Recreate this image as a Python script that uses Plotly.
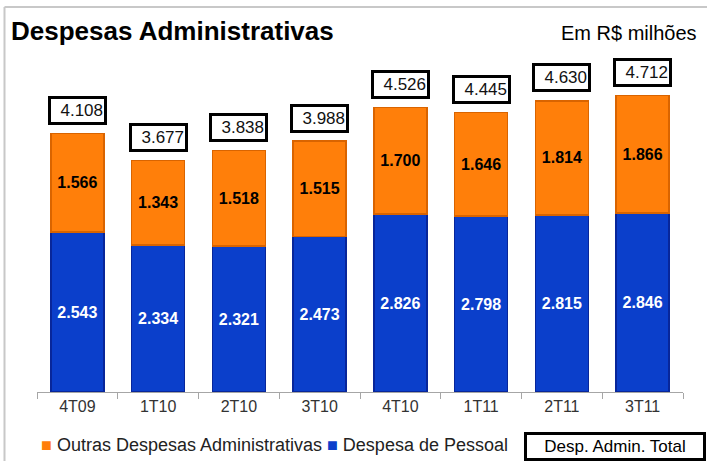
import plotly.graph_objects as go

categories = ["4T09", "1T10", "2T10", "3T10", "4T10", "1T11", "2T11", "3T11"]
pessoal = [2543, 2334, 2321, 2473, 2826, 2798, 2815, 2846]
outras = [1566, 1343, 1518, 1515, 1700, 1646, 1814, 1866]
totais = [4108, 3677, 3838, 3988, 4526, 4445, 4630, 4712]

FONT = "Liberation Sans"
ORANGE = "#FF7F0A"
BLUE = "#0B3FCB"

# pixel -> paper helpers (plot area: x 37..683, y 40..392)
L, R, T, B = 37, 24, 40, 69
W, H = 707, 461
PW, PH = W - L - R, H - T - B


def px(x):
    return (x - L) / PW


def py(y):
    return (H - B - y) / PH


fig = go.Figure()
fig.add_trace(go.Bar(
    x=categories, y=pessoal, name="Despesa de Pessoal",
    marker=dict(color=BLUE, line=dict(color="#08269A", width=1.5)),
    texttemplate="%{y:,.0f}", textposition="inside", insidetextanchor="middle",
    textfont=dict(family=FONT, size=16, color="white", weight="bold"),
    textangle=0,
))
fig.add_trace(go.Bar(
    x=categories, y=outras, name="Outras Despesas Administrativas",
    marker=dict(color=ORANGE, line=dict(color="#D96400", width=1.5)),
    texttemplate="%{y:,.0f}", textposition="inside", insidetextanchor="middle",
    textfont=dict(family=FONT, size=16, color="black", weight="bold"),
    textangle=0,
))

for c, t in zip(categories, totais):
    fig.add_annotation(
        x=c, y=t, xref="x", yref="y", text=f"{t:,}".replace(",", "."),
        showarrow=False, yshift=23, width=51, height=21, align="right",
        font=dict(family=FONT, size=17, color="#111111"),
        bordercolor="black", borderwidth=3, borderpad=1, bgcolor="white",
    )

# Title and unit
fig.add_annotation(text="<b>Despesas Administrativas</b>", xref="paper", yref="paper",
                   x=px(9), y=py(31), xanchor="left", yanchor="middle", showarrow=False,
                   font=dict(family=FONT, size=26, color="black"))
fig.add_annotation(text="Em R$ milhões", xref="paper", yref="paper",
                   x=px(699), y=py(33), xanchor="right", yanchor="middle", showarrow=False,
                   font=dict(family=FONT, size=20, color="black"))

# Legend (drawn as text)
fig.add_annotation(
    text=(f"<span style='color:{ORANGE}'>■</span> Outras Despesas Administrativas "
          f"<span style='color:{BLUE}'>■</span> Despesa de Pessoal"),
    xref="paper", yref="paper", x=px(39), y=py(445), xanchor="left", yanchor="middle",
    showarrow=False, font=dict(family=FONT, size=18, color="#222222"))

# Total legend box
fig.add_annotation(text="Desp. Admin. Total", xref="paper", yref="paper",
                   x=px(614.5), y=py(446), xanchor="center", yanchor="middle", showarrow=False,
                   width=174, height=21,
                   font=dict(family=FONT, size=17, color="black"),
                   bordercolor="black", borderwidth=3, borderpad=1, bgcolor="white")

# Outer frame lines (left and top)
fig.add_shape(type="line", xref="paper", yref="paper", x0=px(4.5), x1=px(4.5), y0=py(7), y1=py(461),
              line=dict(color="#C8C8C8", width=2))
fig.add_shape(type="line", xref="paper", yref="paper", x0=px(4.5), x1=px(707), y0=py(7), y1=py(7),
              line=dict(color="#C8C8C8", width=2))

fig.update_layout(
    width=W, height=H,
    margin=dict(l=L, r=R, t=T, b=B, autoexpand=False),
    barmode="stack", bargap=0.344,
    separators=",.",
    plot_bgcolor="white", paper_bgcolor="white",
    font=dict(family=FONT, size=15, color="#222222"),
    showlegend=False,
    xaxis=dict(showline=True, linecolor="#A6A6A6", linewidth=1, ticks="outside",
               ticklen=6, tickcolor="#A6A6A6", tickson="boundaries",
               tickfont=dict(family=FONT, size=16, color="#333333"), fixedrange=True),
    yaxis=dict(range=[0, 5596], visible=False, fixedrange=True),
    uniformtext=dict(minsize=16, mode="show"),
)

fig.write_html("out.html", config={"displayModeBar": False},
               post_script="document.body.style.margin='0';document.body.style.overflow='hidden';")
